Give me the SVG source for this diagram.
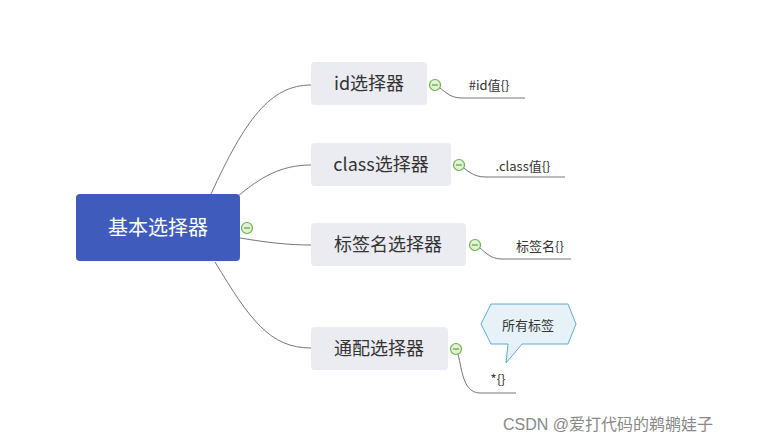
<svg xmlns="http://www.w3.org/2000/svg" width="770" height="443" viewBox="0 0 770 443">
<style>
.n{fill:#ebecf1}
.t{font-family:"Noto Sans CJK SC","Noto Sans",sans-serif;font-size:18px;fill:#333;text-anchor:middle}
.s{font-family:"Noto Sans CJK SC","Noto Sans",sans-serif;font-size:13px;fill:#333;text-anchor:middle}
.c{fill:none;stroke:#777;stroke-width:1}
.col{fill:#e3f2d6;stroke:#6ab34a;stroke-width:1.2}
</style>
<rect width="770" height="443" fill="#fff"/>
<g id="connectors">
<path class="c" d="M211,194 C245,120 270,85 311,85"/>
<path class="c" d="M238,196 C260,178 280,165 311,165"/>
<path class="c" d="M240,238 C270,243 290,245 311,245"/>
<path class="c" d="M215,262 C250,320 270,348 311,348"/>
<path class="c" d="M435,85 C445,90 448,98 462,98 L525,98"/>
<path class="c" d="M459,165 C468,170 472,177 486,177 L565,177"/>
<path class="c" d="M475,245 C485,250 488,259 502,259 L571,259"/>
<path class="c" d="M456,349 C462,360 460,393 480,393 L516,393"/>
</g>
<g id="root"><rect x="76" y="194" width="164" height="67" rx="4" fill="#3f5cbd"/><text x="158" y="235" class="t" style="fill:#fff;font-size:20px">基本选择器</text><circle cx="247" cy="228" r="5.5" class="col"/><line x1="244" y1="228" x2="250" y2="228" stroke="#4a8a30"/></g>
<g id="n1"><rect x="311" y="62" width="116" height="43" rx="4" class="n"/><text x="369" y="90" class="t">id选择器</text><circle cx="435" cy="85" r="5.5" class="col"/><line x1="432" y1="85" x2="438" y2="85" stroke="#4a8a30"/><text x="489" y="90" class="s">#id值{}</text></g>
<g id="n2"><rect x="311" y="143" width="140" height="43" rx="4" class="n"/><text x="381" y="171" class="t">class选择器</text><circle cx="459" cy="165" r="5.5" class="col"/><line x1="456" y1="165" x2="462" y2="165" stroke="#4a8a30"/><text x="523" y="171" class="s">.class值{}</text></g>
<g id="n3"><rect x="311" y="223" width="155" height="43" rx="4" class="n"/><text x="388" y="251" class="t">标签名选择器</text><circle cx="475" cy="245" r="5.5" class="col"/><line x1="472" y1="245" x2="478" y2="245" stroke="#4a8a30"/><text x="540" y="251" class="s">标签名{}</text></g>
<g id="n4"><rect x="311" y="327" width="137" height="43" rx="4" class="n"/><text x="379" y="355" class="t">通配选择器</text><circle cx="456" cy="349" r="5.5" class="col"/><line x1="453" y1="349" x2="459" y2="349" stroke="#4a8a30"/><text x="498" y="384" class="s">*{}</text></g>
<g id="callout"><path d="M491,304 L568,304 L576,324 L568,344 L522,344 L506,363 L508,344 L491,344 L481,324 Z" fill="#e6f1f8" stroke="#5aaed0" stroke-width="1"/><text x="528" y="330" class="s">所有标签</text></g>
<text x="503" y="430" font-family="Liberation Sans,'Noto Sans CJK SC',sans-serif" font-size="16" fill="#888">CSDN @爱打代码的鹈鹕娃子</text>
</svg>
